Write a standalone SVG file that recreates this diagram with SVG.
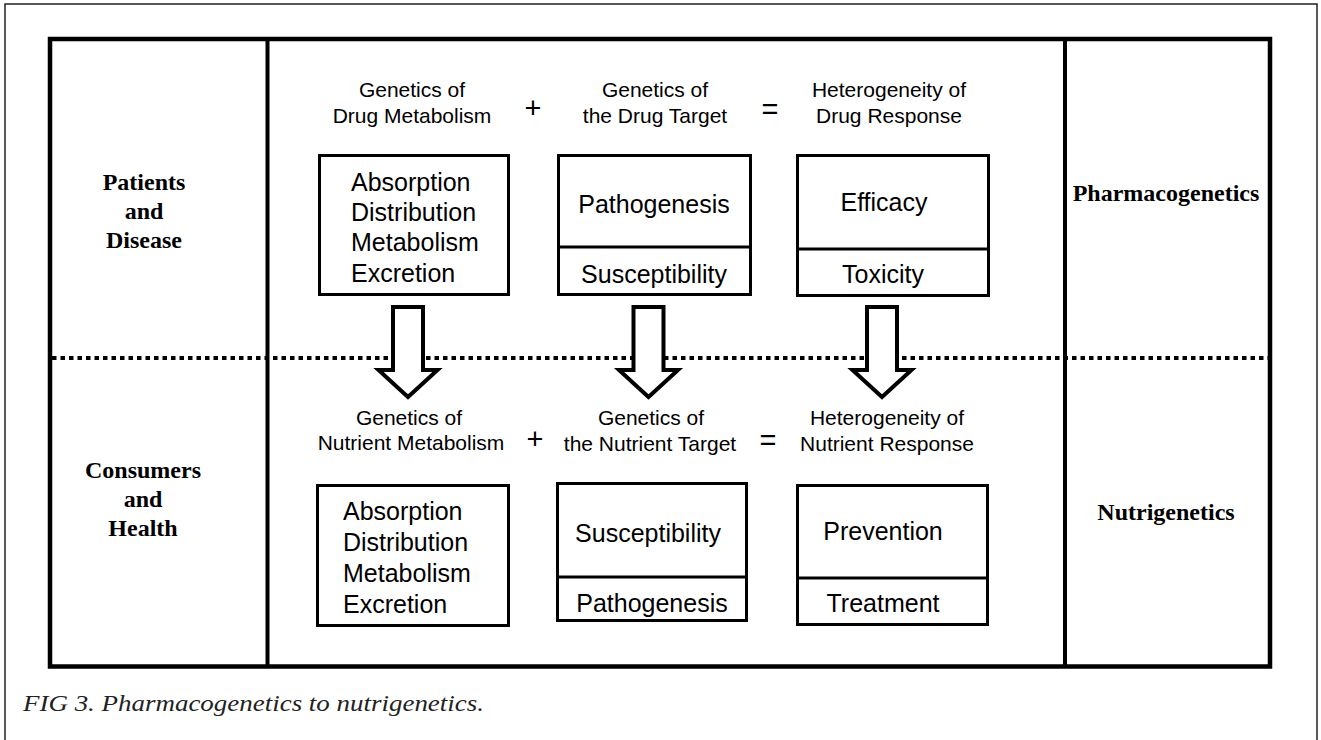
<svg xmlns="http://www.w3.org/2000/svg" width="1321" height="740" viewBox="0 0 1321 740">
<style>
.frame{fill:none;stroke:#000;stroke-width:4.5}
.box{fill:#fff;stroke:#000;stroke-width:3}
.div{stroke:#000;stroke-width:3}
.hd{font-family:"Liberation Sans",Arial,sans-serif;font-size:21px;text-anchor:middle;fill:#000}
.bx{font-family:"Liberation Sans",Arial,sans-serif;font-size:25px;fill:#000}
.bxc{font-family:"Liberation Sans",Arial,sans-serif;font-size:25px;text-anchor:middle;fill:#000}
.op{font-family:"Liberation Sans",Arial,sans-serif;font-size:29px;text-anchor:middle;fill:#000}
.side{font-family:"Liberation Serif","Times New Roman",serif;font-weight:bold;font-size:24px;text-anchor:middle;fill:#000}
.arrow{fill:#fff;stroke:#000;stroke-width:4;stroke-linejoin:miter;stroke-miterlimit:10}
</style>
<rect x="0" y="0" width="1321" height="740" fill="#fff"/>
<rect x="5" y="4" width="1312" height="760" fill="none" stroke="#222" stroke-width="1.5"/>
<g id="frame">
<rect class="frame" x="50" y="39" width="1220" height="627.5"/>
<line x1="267.5" y1="39" x2="267.5" y2="666.5" stroke="#000" stroke-width="4"/>
<line x1="1065" y1="39" x2="1065" y2="666.5" stroke="#000" stroke-width="4"/>
<line x1="52" y1="358" x2="1268" y2="358" stroke="#000" stroke-width="4" stroke-dasharray="4.5 4"/>
</g>
<g id="label-patients">
<text class="side" x="144" y="190">Patients</text>
<text class="side" x="144" y="219">and</text>
<text class="side" x="144" y="248">Disease</text>
</g>
<g id="label-consumers">
<text class="side" x="143" y="478">Consumers</text>
<text class="side" x="143" y="507">and</text>
<text class="side" x="143" y="536">Health</text>
</g>
<g id="label-pharmacogenetics">
<text class="side" x="1166" y="201">Pharmacogenetics</text>
</g>
<g id="label-nutrigenetics">
<text class="side" x="1166" y="520">Nutrigenetics</text>
</g>
<g id="heading-drug">
<text class="hd" x="412" y="97">Genetics of</text>
<text class="hd" x="412" y="123">Drug Metabolism</text>
<text class="op" x="533" y="117.5">+</text>
<text class="hd" x="655" y="97">Genetics of</text>
<text class="hd" x="655" y="123">the Drug Target</text>
<text class="op" x="770" y="119">=</text>
<text class="hd" x="889" y="97">Heterogeneity of</text>
<text class="hd" x="889" y="123">Drug Response</text>
</g>
<g id="box-drug-adme">
<rect class="box" x="319.5" y="155.5" width="189" height="139"/>
<text class="bx" x="351" y="191">Absorption</text>
<text class="bx" x="351" y="220.5">Distribution</text>
<text class="bx" x="351" y="250.5">Metabolism</text>
<text class="bx" x="351" y="281.5">Excretion</text>
</g>
<g id="box-drug-target">
<rect class="box" x="558.5" y="155.5" width="192" height="139"/>
<line class="div" x1="558.5" y1="247" x2="750.5" y2="247"/>
<text class="bxc" x="654" y="213">Pathogenesis</text>
<text class="bxc" x="654" y="283">Susceptibility</text>
</g>
<g id="box-drug-response">
<rect class="box" x="797.5" y="155.5" width="191" height="140"/>
<line class="div" x1="797.5" y1="249" x2="988.5" y2="249"/>
<text class="bxc" x="884" y="211">Efficacy</text>
<text class="bxc" x="883" y="283">Toxicity</text>
</g>
<g id="connectors">
<path class="arrow" d="M393,307 H423 V370 H437.5 L408,397 L378.5,370 H393 Z"/>
<path class="arrow" d="M633.5,307 H663.5 V370 H678 L648.5,397 L619,370 H633.5 Z"/>
<path class="arrow" d="M867,307 H897 V370 H911.5 L882,397 L852.5,370 H867 Z"/>
</g>
<g id="heading-nutrient">
<text class="hd" x="409" y="425">Genetics of</text>
<text class="hd" x="411" y="450">Nutrient Metabolism</text>
<text class="op" x="535" y="448.5">+</text>
<text class="hd" x="651" y="425">Genetics of</text>
<text class="hd" x="650" y="451">the Nutrient Target</text>
<text class="op" x="768" y="450">=</text>
<text class="hd" x="887" y="425">Heterogeneity of</text>
<text class="hd" x="887" y="451">Nutrient Response</text>
</g>
<g id="box-nutrient-adme">
<rect class="box" x="317.5" y="485.5" width="191" height="140"/>
<text class="bx" x="343" y="520">Absorption</text>
<text class="bx" x="343" y="551">Distribution</text>
<text class="bx" x="343" y="582">Metabolism</text>
<text class="bx" x="343" y="613">Excretion</text>
</g>
<g id="box-nutrient-target">
<rect class="box" x="557.5" y="483.5" width="189" height="137"/>
<line class="div" x1="557.5" y1="577" x2="746.5" y2="577"/>
<text class="bxc" x="648" y="542">Susceptibility</text>
<text class="bxc" x="652" y="612">Pathogenesis</text>
</g>
<g id="box-nutrient-response">
<rect class="box" x="797.5" y="485.5" width="190" height="139"/>
<line class="div" x1="797.5" y1="578" x2="987.5" y2="578"/>
<text class="bxc" x="883" y="540">Prevention</text>
<text class="bxc" x="883" y="612">Treatment</text>
</g>
<g id="caption">
<text x="23" y="711" font-family="Liberation Serif,'Times New Roman',serif" font-style="italic" font-size="23" textLength="461" lengthAdjust="spacingAndGlyphs" fill="#222">FIG 3. Pharmacogenetics to nutrigenetics.</text>
</g>
</svg>
